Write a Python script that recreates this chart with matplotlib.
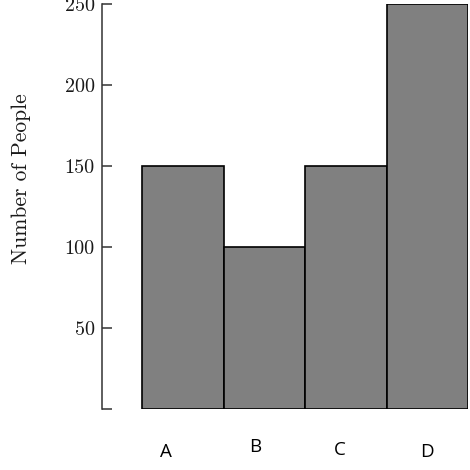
import matplotlib
matplotlib.use('Agg')
import matplotlib.pyplot as plt

categories = ['A', 'B', 'C', 'D']
people = [150, 100, 150, 250]
yticks = [0, 50, 100, 150, 200, 250]
ytick_labels = ['', '50', '100', '150', '200', '250']

# the x labels sit a little off the bar centres in the original
label_dx = [-0.21, -0.12, -0.07, 0.0]
label_dy = [0, 5, 2, 0]

fig = plt.figure(figsize=(4.7, 4.7), dpi=100)
ax = fig.add_axes([0.2164, 0.1298, 0.7794, 0.8617])

x = list(range(len(categories)))
ax.bar(x, people, width=1.0, color='#808080', edgecolor='black', linewidth=1.2)

ax.set_xlim(-1.0, 3.5)
ax.set_ylim(0, 250)

for s in ['top', 'right', 'bottom']:
    ax.spines[s].set_visible(False)
ax.spines['left'].set_linewidth(1.1)
ax.spines['left'].set_color('#333333')

ax.set_yticks(yticks)
ax.set_yticklabels(ytick_labels, fontfamily='cmr10', fontsize=14.5, color='#1a1a1a')
ax.tick_params(axis='y', direction='in', length=7, width=1.1, pad=5, color='#333333')
ax.set_xticks([])

ax.set_ylabel('Number of People', fontfamily='cmr10', fontsize=15.5, color='#1a1a1a')
ax.yaxis.set_label_coords(-0.193, 0.57)

for xi, lab, dx, dy in zip(x, categories, label_dx, label_dy):
    ax.annotate(lab, xy=(xi + dx, 0), xycoords='data',
                xytext=(0, -43 + dy), textcoords='offset pixels',
                ha='center', va='center', fontfamily='Open Sans', fontsize=13.5)

fig.savefig('out.png', dpi=100)
